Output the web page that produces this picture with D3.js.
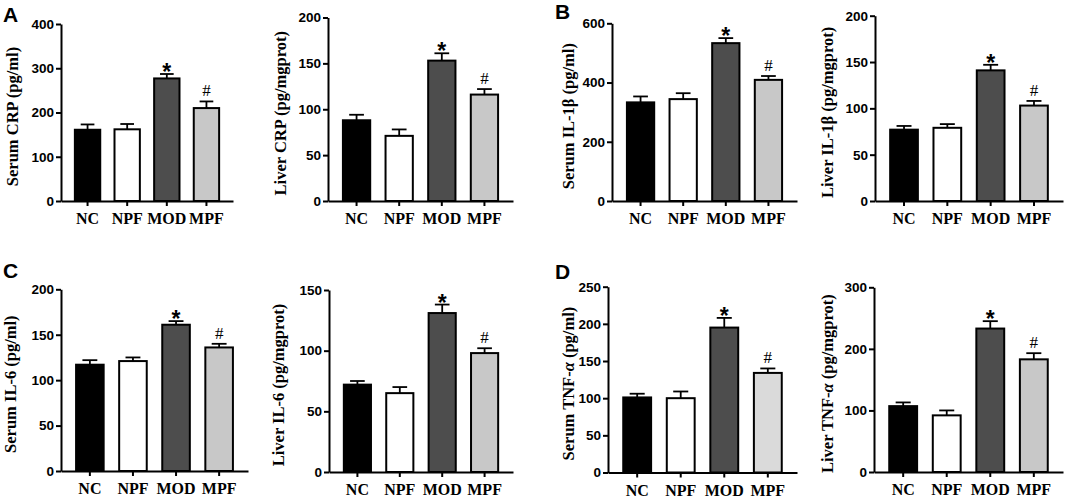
<!DOCTYPE html>
<html>
<head>
<meta charset="utf-8">
<script src="https://cdn.jsdelivr.net/npm/d3@7"></script>
<style>
  body { margin: 0; background: #fff; }
  svg { display: block; }
  .tick text { fill: #000; }
</style>
</head>
<body>
<svg id="chart" width="1065" height="498"></svg>
<script>
// groups on the x axis
var categories = ["NC", "NPF", "MOD", "MPF"];
var marks = ["", "", "*", "#"];

// means and upper error (SEM)
var serumCRP = [161, 162, 277, 210];
var serumCRPErr = [12, 12, 10, 15];
var liverCRP = [88, 71, 153, 116];
var liverCRPErr = [6, 7, 8, 6];
var serumIL1b = [333, 344, 533, 409];
var serumIL1bErr = [20, 20, 17, 13];
var liverIL1b = [77, 79, 141, 103];
var liverIL1bErr = [4, 4, 6, 5];
var serumIL6 = [117, 121, 161, 136];
var serumIL6Err = [5, 4, 4, 4];
var liverIL6 = [72, 65, 131, 98];
var liverIL6Err = [3, 5, 7, 4];
var serumTNF = [101, 100, 195, 134];
var serumTNFErr = [5, 9, 13, 6];
var liverTNF = [107, 92, 233, 183];
var liverTNFErr = [6, 8, 12, 10];

var fills = ["#000000", "#ffffff", "#4d4d4d", "#c8c8c8"];

var serif = "'Liberation Serif', 'Times New Roman', serif";
var sans = "'Liberation Sans', Arial, sans-serif";

var panels = [
  {title: "Serum CRP (pg/ml)", v: serumCRP, e: serumCRPErr, max: 400, step: 100, ax: 61, xe: 233, y0: 201, y1: 24, tx: 12},
  {title: "Liver CRP (pg/mgprot)", v: liverCRP, e: liverCRPErr, max: 200, step: 50, ax: 328, xe: 513, y0: 201, y1: 17.5, tx: 280},
  {title: "Serum IL-1\u03b2  (pg/ml)", v: serumIL1b, e: serumIL1bErr, max: 600, step: 200, ax: 612, xe: 797, y0: 201, y1: 23.3, tx: 568},
  {title: "Liver IL-1\u03b2 (pg/mgprot)", v: liverIL1b, e: liverIL1bErr, max: 200, step: 50, ax: 875, xe: 1063, y0: 201, y1: 15.7, tx: 827},
  {title: "Serum IL-6 (pg/ml)", v: serumIL6, e: serumIL6Err, max: 200, step: 50, ax: 61, xe: 248, y0: 471, y1: 289.3, tx: 10},
  {title: "Liver IL-6 (pg/mgprot)", v: liverIL6, e: liverIL6Err, max: 150, step: 50, ax: 329, xe: 513, y0: 472, y1: 290, tx: 278},
  {title: "Serum TNF-\u03b1 (pg/ml)", v: serumTNF, e: serumTNFErr, max: 250, step: 50, ax: 608, xe: 797, y0: 472.5, y1: 286.7, tx: 568, light: true},
  {title: "Liver TNF-\u03b1 (pg/mgprot)", v: liverTNF, e: liverTNFErr, max: 300, step: 100, ax: 874, xe: 1063, y0: 472, y1: 287.3, tx: 827}
];

var svg = d3.select("#chart");

panels.forEach(function(p) {
  var g = svg.append("g");
  var x = d3.scaleBand().domain(categories).range([p.ax, p.xe])
      .paddingInner(0.36).paddingOuter(0.35);
  var y = d3.scaleLinear().domain([0, p.max]).range([p.y0, p.y1]);

  // bars
  g.selectAll("rect.bar").data(p.v).enter().append("rect")
      .attr("class", "bar")
      .attr("x", function(d, i) { return x(categories[i]); })
      .attr("y", function(d) { return y(d); })
      .attr("width", x.bandwidth())
      .attr("height", function(d) { return y(0) - y(d); })
      .attr("fill", function(d, i) { return (i == 3 && p.light) ? "#dadada" : fills[i]; })
      .attr("stroke", "#000")
      .attr("stroke-width", 2);

  // upper error bars
  var cap = x.bandwidth() * 0.27;
  p.v.forEach(function(d, i) {
    var cx = x(categories[i]) + x.bandwidth() / 2;
    g.append("line").attr("x1", cx).attr("x2", cx)
        .attr("y1", y(d)).attr("y2", y(d + p.e[i]))
        .attr("stroke", "#000").attr("stroke-width", 1.8);
    g.append("line").attr("x1", cx - cap).attr("x2", cx + cap)
        .attr("y1", y(d + p.e[i])).attr("y2", y(d + p.e[i]))
        .attr("stroke", "#000").attr("stroke-width", 1.8);
    if (marks[i] == "*") {
      g.append("text").attr("x", cx).attr("y", y(d + p.e[i]) + 6)
          .attr("text-anchor", "middle")
          .style("font", "bold 23px " + sans).text("*");
    } else if (marks[i] == "#") {
      g.append("text").attr("x", cx).attr("y", y(d + p.e[i]) - 5)
          .attr("text-anchor", "middle")
          .style("font", "17px " + serif).text("#");
    }
  });

  // y axis
  var ya = g.append("g").attr("transform", "translate(" + p.ax + ",0)")
      .call(d3.axisLeft(y).tickValues(d3.range(0, p.max + 1, p.step))
        .tickSize(5).tickSizeOuter(0).tickPadding(2).tickFormat(d3.format("d")));
  ya.selectAll("text").style("font", "bold 13.5px " + sans);

  // x axis
  var xa = g.append("g").attr("transform", "translate(0," + p.y0 + ")")
      .call(d3.axisBottom(x).tickSize(5).tickSizeOuter(0).tickPadding(7));
  xa.selectAll("text").style("font", "bold 16px " + serif);

  svg.selectAll(".domain, .tick line").attr("stroke", "#000").attr("stroke-width", 2);

  // y title, alpha in italics
  var t = g.append("text")
      .attr("transform", "translate(" + p.tx + "," + ((p.y0 + p.y1) / 2 + 4) + ") rotate(-90)")
      .attr("text-anchor", "middle")
      .attr("dominant-baseline", "central")
      .style("font", "bold 16.5px " + serif);
  var parts = p.title.split("\u03b1");
  parts.forEach(function(s, k) {
    t.append("tspan").text(s);
    if (k < parts.length - 1) t.append("tspan").style("font-style", "italic").text("\u03b1");
  });
});

// panel letters
var letters = [["A", 3, 22], ["B", 555, 19], ["C", 3, 278], ["D", 555, 279]];
svg.selectAll("text.letter").data(letters).enter().append("text")
    .attr("class", "letter")
    .attr("x", function(d) { return d[1]; })
    .attr("y", function(d) { return d[2]; })
    .style("font", "bold 21px " + sans)
    .text(function(d) { return d[0]; });
</script>
</body>
</html>
